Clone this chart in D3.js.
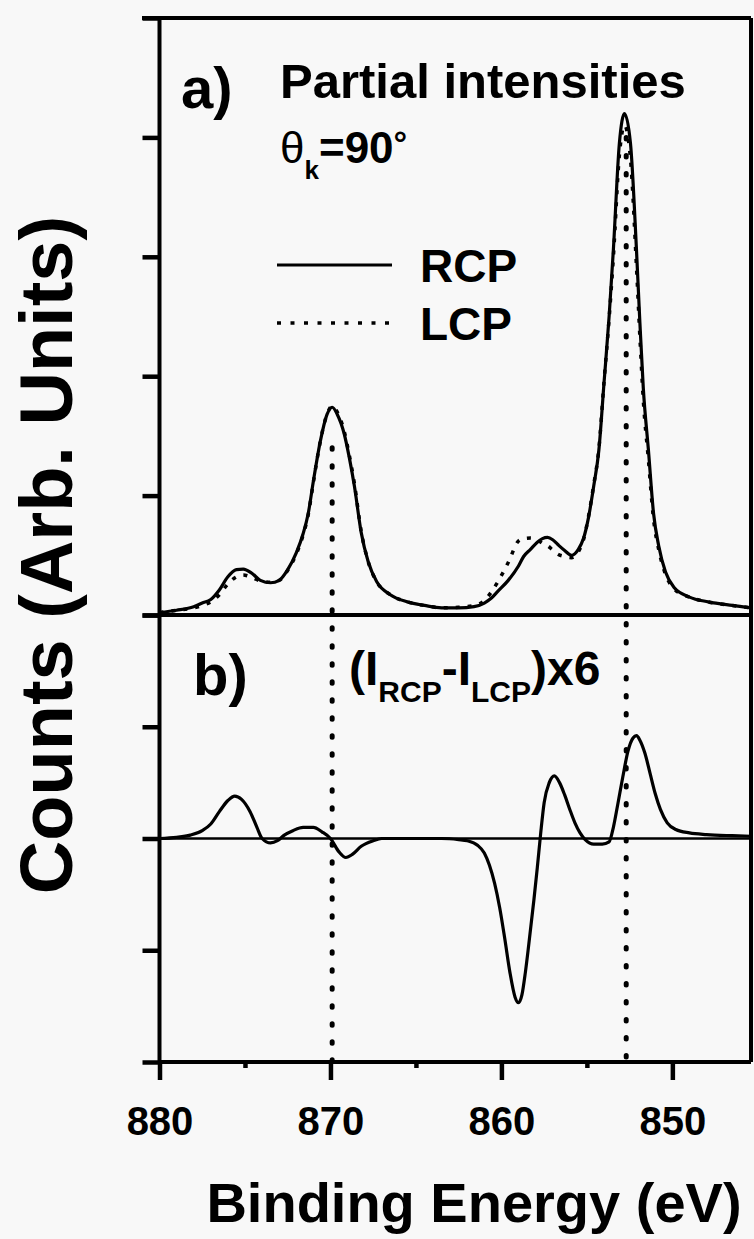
<!DOCTYPE html>
<html>
<head>
<meta charset="utf-8">
<script src="https://cdn.jsdelivr.net/npm/d3@7"></script>
<style>
body{margin:0;background:#f8f8f8;}
svg{display:block;font-family:"Liberation Sans",Arial,sans-serif;font-weight:bold;}
</style>
</head>
<body>
<svg width="754" height="1239"></svg>
<script>
// binding energy grid (eV) for the two partial intensity curves of panel a
const energy = [880, 879, 878, 877.5, 877, 876.5, 876, 875.5, 875.1, 874.6, 874.1, 873.5, 873, 872.5, 872,
  871.6, 871.3, 871, 870.6, 870.2, 869.9, 869.6, 869.2, 868.9, 868.6, 868.2, 867.8, 867.3, 866.5, 865.5,
  864.5, 863.5, 862.5, 861.6, 861, 860.6, 860.2, 859.6, 859, 858.7, 858.3, 857.9, 857.6, 857.3, 857,
  856.7, 856.3, 855.9, 855.5, 855.2, 854.9, 854.6, 854.3, 854, 853.7, 853.45, 853.1, 852.8, 852.45, 852.1,
  851.9, 851.7, 851.4, 851.1, 850.8, 850.4, 849.9, 849, 847.9, 846.5, 845.4];

const rcp = [0.02, 0.04, 0.07, 0.10, 0.13, 0.21, 0.32, 0.38, 0.385, 0.35, 0.29, 0.27, 0.29, 0.38, 0.52,
  0.68, 0.85, 1.12, 1.45, 1.68, 1.74, 1.68, 1.52, 1.32, 1.08, 0.69, 0.45, 0.28, 0.17, 0.11,
  0.08, 0.06, 0.06, 0.07, 0.10, 0.14, 0.20, 0.29, 0.41, 0.49, 0.55, 0.61, 0.64, 0.65, 0.63,
  0.59, 0.54, 0.50, 0.55, 0.64, 0.82, 1.08, 1.38, 1.94, 2.5, 3.06, 3.95, 4.2, 3.95, 3.06,
  2.45, 1.9, 1.38, 0.85, 0.58, 0.36, 0.23, 0.15, 0.11, 0.08, 0.06];

const lcp = [0.02, 0.04, 0.06, 0.08, 0.11, 0.17, 0.26, 0.32, 0.335, 0.315, 0.285, 0.275, 0.29, 0.375, 0.51,
  0.67, 0.84, 1.11, 1.45, 1.68, 1.75, 1.70, 1.54, 1.34, 1.10, 0.70, 0.45, 0.28, 0.17, 0.11,
  0.08, 0.06, 0.065, 0.08, 0.12, 0.19, 0.28, 0.44, 0.62, 0.64, 0.645, 0.63, 0.60, 0.58, 0.545,
  0.51, 0.49, 0.48, 0.53, 0.63, 0.83, 1.09, 1.39, 1.95, 2.48, 3.0, 3.85, 4.1, 3.82, 2.92,
  2.33, 1.8, 1.3, 0.8, 0.55, 0.34, 0.22, 0.15, 0.11, 0.08, 0.06];

// panel b: (I_RCP - I_LCP) x 6
const diffEnergy = [880, 879, 878.2, 877.5, 877, 876.5, 876, 875.6, 875.2, 874.7, 874.3, 874, 873.5, 873.1,
  872.7, 872.2, 871.6, 871, 870.5, 870, 869.5, 869.1, 868.7, 868.2, 867.5, 867, 865, 863.5, 862.5, 862,
  861.4, 861, 860.7, 860.4, 860.1, 859.8, 859.5, 859.2, 859, 858.8, 858.6, 858.4, 858.1, 857.9, 857.7,
  857.5, 857.2, 856.9, 856.6, 856.3, 856, 855.7, 855.4, 855.1, 854.6, 854.1, 853.7, 853.45, 853.2, 852.9,
  852.6, 852.3, 852.1, 851.9, 851.6, 851.3, 851, 850.7, 850.3, 849.8, 849, 848, 846.5, 845.4];

const diffValue = [0, 0.01, 0.03, 0.07, 0.13, 0.24, 0.34, 0.38, 0.35, 0.24, 0.1, 0, -0.04, -0.02,
  0.03, 0.07, 0.1, 0.1, 0.06, 0, -0.12, -0.17, -0.14, -0.07, -0.02, 0, 0, 0, -0.01, -0.02,
  -0.06, -0.13, -0.24, -0.4, -0.62, -0.9, -1.2, -1.42, -1.47, -1.4, -1.2, -0.95, -0.55, -0.26, 0.05,
  0.32, 0.5, 0.56, 0.5, 0.39, 0.26, 0.14, 0.05, -0.01, -0.05, -0.05, -0.03, 0.1, 0.3, 0.55,
  0.78, 0.9, 0.92, 0.88, 0.76, 0.58, 0.4, 0.26, 0.14, 0.08, 0.05, 0.035, 0.025, 0.02];

const xTicks = [880, 870, 860, 850];
const xMinorTicks = [875, 865, 855];
const yTicksA = [0, 1, 2, 3, 4, 5];
const yTicksB = [-2, -1, 0, 1, 2];
// dotted guide lines through the two main peaks
const peakEnergy = [869.9, 852.7];
const peakStart = [1.4, 4.0];

const svg = d3.select('svg');

const x = d3.scaleLinear().domain([880, 845.4]).range([159.5, 751]);
const yA = d3.scaleLinear().domain([0, 5]).range([615, 18]);
const yB = d3.scaleLinear().domain([-2, 2]).range([1062, 615]);

// axes
const xAxis = svg.append('g')
  .attr('transform', 'translate(0,1062)')
  .call(d3.axisBottom(x).tickValues(xTicks).tickSize(18).tickPadding(27).tickFormat(d3.format('d')));
svg.append('g')
  .attr('transform', 'translate(0,1062)')
  .call(d3.axisBottom(x).tickValues(xMinorTicks).tickSize(6).tickFormat(''));
svg.append('g')
  .attr('transform', 'translate(159.5,0)')
  .call(d3.axisLeft(yA).tickValues(yTicksA).tickSize(17).tickFormat(''));
svg.append('g')
  .attr('transform', 'translate(159.5,0)')
  .call(d3.axisLeft(yB).tickValues(yTicksB).tickSize(17).tickFormat(''));

svg.selectAll('.domain').remove();
svg.selectAll('.tick line').attr('stroke', '#000').attr('stroke-width', 4.5);
xAxis.selectAll('text')
  .attr('font-size', 40)
  .attr('font-family', '"Liberation Sans", Arial, sans-serif')
  .attr('font-weight', 'bold')
  .attr('fill', '#000');

// frame
const frame = [
  [142, 18, 751, 18],
  [159.5, 18, 159.5, 1062],
  [159.5, 1062, 751, 1062],
  [751, 18, 751, 1062],
  [159.5, 615, 751, 615]
];
svg.selectAll('.frame')
  .data(frame)
  .join('line')
  .attr('class', 'frame')
  .attr('x1', d => d[0]).attr('y1', d => d[1])
  .attr('x2', d => d[2]).attr('y2', d => d[3])
  .attr('stroke', '#000')
  .attr('stroke-width', 4);

// zero line of panel b
svg.append('line')
  .attr('x1', x(880)).attr('x2', x(845.4))
  .attr('y1', yB(0)).attr('y2', yB(0))
  .attr('stroke', '#000').attr('stroke-width', 2.5);

// dotted guide lines
svg.selectAll('.guide')
  .data(peakEnergy)
  .join('line')
  .attr('class', 'guide')
  .attr('x1', d => x(d)).attr('x2', d => x(d))
  .attr('y1', (d, i) => yA(peakStart[i]))
  .attr('y2', yB(-2))
  .attr('stroke', '#000')
  .attr('stroke-width', 5)
  .attr('stroke-linecap', 'round')
  .attr('stroke-dasharray', '1.5 16.5');

const lineA = d3.line()
  .x(d => x(d[0]))
  .y(d => yA(d[1]))
  .curve(d3.curveMonotoneX);

svg.append('path')
  .attr('d', lineA(energy.map((e, i) => [e, lcp[i]])))
  .attr('fill', 'none')
  .attr('stroke', '#000')
  .attr('stroke-width', 3.5)
  .attr('stroke-dasharray', '4 8');

svg.append('path')
  .attr('d', lineA(energy.map((e, i) => [e, rcp[i]])))
  .attr('fill', 'none')
  .attr('stroke', '#000')
  .attr('stroke-width', 3.2);

const lineB = d3.line()
  .x(d => x(d[0]))
  .y(d => yB(d[1]))
  .curve(d3.curveMonotoneX);

svg.append('path')
  .attr('d', lineB(diffEnergy.map((e, i) => [e, diffValue[i]])))
  .attr('fill', 'none')
  .attr('stroke', '#000')
  .attr('stroke-width', 3.2);

// legend
svg.append('line')
  .attr('x1', 277).attr('x2', 392).attr('y1', 265).attr('y2', 265)
  .attr('stroke', '#000').attr('stroke-width', 3.2);
svg.append('line')
  .attr('x1', 277).attr('x2', 392).attr('y1', 323).attr('y2', 323)
  .attr('stroke', '#000').attr('stroke-width', 3.5).attr('stroke-dasharray', '4 9.5');
svg.append('text').attr('x', 420).attr('y', 282).attr('font-size', 46).text('RCP');
svg.append('text').attr('x', 420).attr('y', 340).attr('font-size', 46).text('LCP');

// panel labels and annotations
svg.append('text').attr('x', 181).attr('y', 108).attr('font-size', 58).text('a)');
svg.append('text').attr('x', 193).attr('y', 695).attr('font-size', 58).text('b)');
svg.append('text').attr('x', 280).attr('y', 98).attr('font-size', 49).text('Partial intensities');

const theta = svg.append('text').attr('x', 280).attr('y', 163).attr('font-size', 44);
theta.append('tspan').attr('font-weight', 'normal').text('θ');
theta.append('tspan').attr('font-size', 26).attr('dy', 16).text('k');
theta.append('tspan').attr('dy', -16).text('=90');
theta.append('tspan').attr('font-size', 34).attr('dy', -8).text('°');

const diffLabel = svg.append('text').attr('x', 349).attr('y', 685).attr('font-size', 48);
diffLabel.append('tspan').text('(I');
diffLabel.append('tspan').attr('font-size', 30).attr('dy', 17).text('RCP');
diffLabel.append('tspan').attr('dy', -17).text('-I');
diffLabel.append('tspan').attr('font-size', 30).attr('dy', 17).text('LCP');
diffLabel.append('tspan').attr('dy', -17).text(')x6');

// axis titles
svg.append('text')
  .attr('x', 474).attr('y', 1222)
  .attr('text-anchor', 'middle')
  .attr('font-size', 56)
  .text('Binding Energy (eV)');
svg.append('text')
  .attr('transform', 'translate(72,555) rotate(-90)')
  .attr('text-anchor', 'middle')
  .attr('font-size', 74)
  .text('Counts (Arb. Units)');
</script>
</body>
</html>
